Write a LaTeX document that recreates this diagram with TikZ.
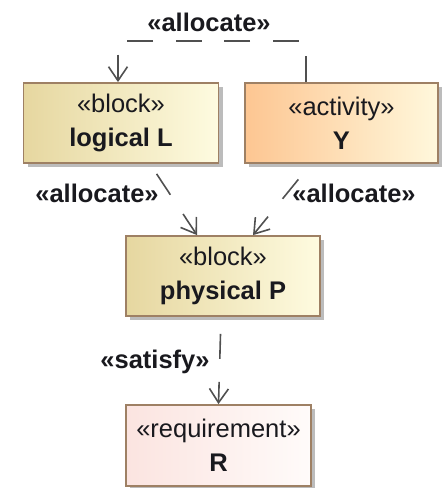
\documentclass[tikz,border=0pt]{standalone}
\usepackage{fontspec}
\setmainfont{Liberation Sans}
\usetikzlibrary{arrows.meta,shadows,calc}
\definecolor{bordc}{RGB}{158,128,100}
\definecolor{blkL}{RGB}{230,215,160}
\definecolor{blkR}{RGB}{254,251,224}
\definecolor{actL}{RGB}{253,198,146}
\definecolor{actR}{RGB}{255,248,220}
\definecolor{reqL}{RGB}{251,228,224}
\definecolor{reqR}{RGB}{255,251,250}
\definecolor{shadc}{RGB}{188,188,188}
\definecolor{linec}{RGB}{80,80,80}
\definecolor{txtc}{RGB}{25,25,30}
\tikzset{
  umlbox/.style={rectangle, draw=bordc, line width=1.8pt, inner sep=0pt,
    align=center, text=txtc, font=\fontsize{25.5}{34}\selectfont,
    drop shadow={shadow xshift=4pt, shadow yshift=-4pt, fill=shadc, opacity=1}},
  blockbox/.style={umlbox, left color=blkL, right color=blkR},
  actbox/.style={umlbox, left color=actL, right color=actR},
  reqbox/.style={umlbox, left color=reqL, right color=reqR},
  deplabel/.style={font=\fontsize{25.5}{30}\selectfont\bfseries, text=txtc, inner sep=0pt},
  dep/.style={draw=linec, line width=1.6pt, dash pattern=on 25pt off 23pt,
    -{Straight Barb[length=14pt,width=19pt,line width=1.6pt]}},
}
\begin{document}
\begin{tikzpicture}[x=1pt,y=-1pt]
\useasboundingbox (0,0) rectangle (446,488);
\node[blockbox, minimum width=195pt, minimum height=80pt] (L) at (121,123) {«block»\\\textbf{logical L}};
\node[actbox, minimum width=193pt, minimum height=80pt] (Y) at (341.5,123) {«activity»\\\textbf{Y}};
\node[blockbox, minimum width=194pt, minimum height=80pt] (P) at (223,276) {«block»\\\textbf{physical P}};
\node[reqbox, minimum width=185pt, minimum height=81pt] (R) at (218.5,445.5) {«requirement»\\\textbf{R}};

\draw[dep, dash pattern=on 26pt off 22.5pt] ([xshift=-35.5pt]Y.north) -- ++(0,-41) -| ([xshift=-3pt]L.north);
\draw[dep, dash phase=36pt] ([xshift=29pt]L.south) -- ([xshift=-26pt]P.north);
\draw[dep, dash phase=28pt] ([xshift=-30.5pt]Y.south) -- ([xshift=30pt]P.north);
\draw[dep, dash phase=31pt] ([xshift=-2pt]P.south) -- (R.north);

\node[deplabel] (la) at (209,22) {«allocate»};
\node[deplabel] (lb) at (97,193) {«allocate»};
\node[deplabel] (lc) at (354,193) {«allocate»};
\node[deplabel] (ls) at (155,362) {«satisfy»};
\end{tikzpicture}
\end{document}
